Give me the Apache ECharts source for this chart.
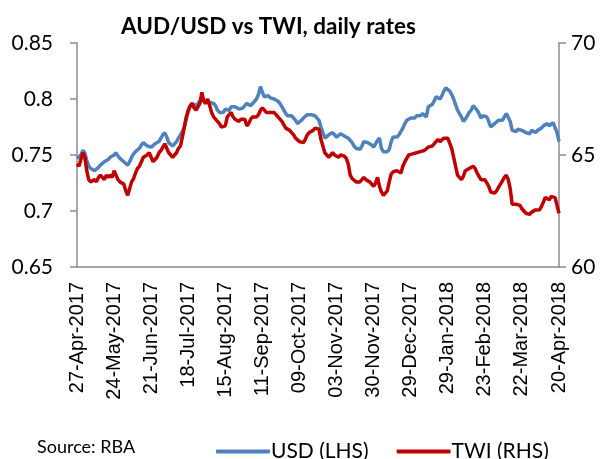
<!DOCTYPE html>
<html>
<head>
<meta charset="utf-8">
<script src="https://cdn.jsdelivr.net/npm/echarts@6/dist/echarts.min.js"></script>
<style>
  html, body { margin: 0; padding: 0; background: #fff; }
  #chart { width: 607px; height: 459px; }
</style>
</head>
<body>
<div id="chart"></div>
<script>
// x axis labels, one every 19 trading days
var tickLabels = ['27-Apr-2017', '24-May-2017', '21-Jun-2017', '18-Jul-2017', '15-Aug-2017',
  '11-Sep-2017', '09-Oct-2017', '03-Nov-2017', '30-Nov-2017', '29-Dec-2017',
  '29-Jan-2018', '23-Feb-2018', '22-Mar-2018', '20-Apr-2018'];
var labelStep = 19;

// AUD/USD (LHS)
var usd = [
  0.747, 0.746, 0.750, 0.754, 0.752, 0.745, 0.740, 0.738, 0.737, 0.736,
  0.737, 0.739, 0.741, 0.742, 0.744, 0.743, 0.746, 0.748, 0.747, 0.750,
  0.752, 0.749, 0.747, 0.746, 0.744, 0.743, 0.741, 0.744, 0.748, 0.751,
  0.753, 0.754, 0.756, 0.759, 0.761, 0.760, 0.758, 0.759, 0.757, 0.758,
  0.760, 0.761, 0.762, 0.765, 0.768, 0.770, 0.766, 0.761, 0.760, 0.758,
  0.759, 0.762, 0.765, 0.768, 0.771, 0.775, 0.782, 0.789, 0.793, 0.796,
  0.795, 0.794, 0.796, 0.795, 0.801, 0.799, 0.797, 0.798, 0.797, 0.796,
  0.796, 0.794, 0.790, 0.788, 0.787, 0.788, 0.791, 0.792, 0.790, 0.793,
  0.792, 0.793, 0.792, 0.791, 0.790, 0.792, 0.794, 0.796, 0.795, 0.794,
  0.796, 0.798, 0.800, 0.804, 0.811, 0.806, 0.802, 0.801, 0.803, 0.801,
  0.802, 0.800, 0.799, 0.798, 0.796, 0.795, 0.790, 0.787, 0.785, 0.784,
  0.785, 0.786, 0.781, 0.778, 0.779, 0.781, 0.783, 0.784, 0.786, 0.786,
  0.786, 0.785, 0.785, 0.784, 0.781, 0.775, 0.770, 0.765, 0.766, 0.768,
  0.768, 0.770, 0.768, 0.766, 0.767, 0.769, 0.768, 0.767, 0.768, 0.765,
  0.763, 0.761, 0.758, 0.756, 0.757, 0.755, 0.758, 0.762, 0.761, 0.761,
  0.760, 0.759, 0.757, 0.760, 0.763, 0.765, 0.756, 0.753, 0.752, 0.753,
  0.755, 0.762, 0.766, 0.765, 0.766, 0.768, 0.771, 0.774, 0.778, 0.781,
  0.782, 0.783, 0.784, 0.783, 0.785, 0.786, 0.785, 0.787, 0.786, 0.784,
  0.793, 0.794, 0.795, 0.798, 0.802, 0.801, 0.800, 0.803, 0.807, 0.810,
  0.809, 0.807, 0.804, 0.800, 0.795, 0.790, 0.787, 0.784, 0.780, 0.782,
  0.785, 0.788, 0.790, 0.794, 0.795, 0.790, 0.787, 0.783, 0.785, 0.786,
  0.784, 0.780, 0.775, 0.776, 0.778, 0.777, 0.781, 0.780, 0.781, 0.784,
  0.787, 0.787, 0.780, 0.772, 0.773, 0.771, 0.773, 0.774, 0.772, 0.771,
  0.770, 0.771, 0.769, 0.772, 0.771, 0.770, 0.772, 0.773, 0.774, 0.776,
  0.777, 0.778, 0.776, 0.777, 0.779, 0.780, 0.770, 0.762
];

// trade weighted index (RHS)
var twi = [
  64.6, 64.5, 64.8, 65.1, 64.9, 64.3, 63.9, 63.8, 63.75, 63.9,
  63.8, 64.0, 64.1, 64.0, 63.9, 64.1, 64.0, 64.1, 64.0, 64.3,
  64.1, 63.9, 63.8, 63.85, 63.7, 63.4, 63.2, 63.5, 63.8, 63.95,
  64.2, 64.4, 64.5, 64.7, 64.9, 64.9, 65.0, 65.1, 64.9, 64.7,
  64.8, 64.9, 65.1, 65.2, 65.35, 65.5, 65.3, 65.1, 65.0, 64.9,
  65.0, 65.1, 65.3, 65.4, 65.8, 66.25, 66.7, 67.0, 67.2, 67.3,
  67.1, 67.0, 67.0, 67.3, 67.8, 67.4, 67.3, 67.5, 67.2, 66.9,
  66.7, 66.6, 66.5, 66.4, 66.25, 66.2, 66.3, 66.7, 66.8, 66.9,
  66.7, 66.6, 66.55, 66.5, 66.6, 66.55, 66.6, 66.3, 66.4, 66.6,
  66.7, 66.65, 66.7, 66.8, 67.0, 67.1, 67.0, 66.9, 66.85, 66.9,
  66.95, 66.9, 66.8, 66.85, 66.6, 66.5, 66.35, 66.2, 66.25, 66.1,
  66.1, 65.9, 65.75, 65.7, 65.6, 65.65, 65.55, 65.7, 65.9, 66.0,
  66.05, 66.1, 66.2, 66.25, 66.15, 65.7, 65.4, 65.1, 65.0, 64.9,
  65.0, 65.1, 65.0, 64.95, 64.9, 65.0, 65.05, 64.95, 64.85, 64.6,
  64.1, 63.95, 63.9, 63.8, 63.75, 63.8, 63.9, 64.0, 63.9, 63.85,
  63.8, 63.7, 63.6, 63.75, 64.0, 63.6, 63.35, 63.2, 63.3, 63.4,
  63.8, 64.15, 64.25, 64.2, 64.3, 64.25, 64.2, 64.5, 64.7, 64.85,
  65.0, 64.95, 65.05, 65.0, 65.1, 65.1, 65.15, 65.1, 65.2, 65.25,
  65.35, 65.3, 65.4, 65.45, 65.6, 65.7, 65.6, 65.65, 65.75, 65.75,
  65.75, 65.7, 65.3, 64.9, 64.5, 64.1, 64.0, 63.9, 64.05, 64.3,
  64.25, 64.4, 64.45, 64.5, 64.4, 64.2, 64.05, 63.9, 63.95, 63.9,
  63.85, 63.6, 63.35, 63.4, 63.3, 63.4, 63.55, 63.7, 63.85, 64.0,
  64.1, 63.9, 63.5, 62.8, 62.85, 62.8, 62.85, 62.75, 62.6, 62.5,
  62.4, 62.4, 62.35, 62.45, 62.5, 62.55, 62.5, 62.55, 62.7, 62.9,
  63.1, 63.05, 63.0, 63.15, 63.2, 63.1, 63.15, 62.4
];

var categories = usd.map(function (v, i) { return String(i); });

var chart = echarts.init(document.getElementById('chart'));

var axisGrey = '#8c8c8c';
var option = {
  animation: false,
  backgroundColor: '#fff',
  title: {
    text: 'AUD/USD vs TWI, daily rates',
    left: 116,
    top: 10,
    textStyle: {
      fontFamily: 'Lato',
      fontWeight: 'bold',
      fontSize: 22.5,
      color: '#000'
    }
  },
  graphic: [{
    type: 'text',
    left: 37,
    top: 438,
    style: {
      text: 'Source: RBA',
      font: '18px Lato',
      fill: '#000'
    }
  }],
  legend: {
    left: 211,
    top: 436,
    itemWidth: 54,
    itemHeight: 4,
    itemGap: 28,
    icon: 'roundRect',
    textStyle: {
      fontFamily: 'Lato',
      fontSize: 21,
      color: '#000',
      padding: [0, 0, 0, -4]
    },
    data: ['USD (LHS)', 'TWI (RHS)']
  },
  grid: {
    left: 77,
    right: 48,
    top: 43,
    bottom: 192,
    containLabel: false
  },
  xAxis: {
    type: 'category',
    data: categories,
    boundaryGap: false,
    axisLine: { lineStyle: { color: axisGrey, width: 1.5 } },
    axisTick: { show: false },
    axisLabel: {
      rotate: 90,
      margin: 15,
      interval: function (idx) { return idx % labelStep === 0; },
      formatter: function (value, idx) { return tickLabels[idx / labelStep]; },
      fontFamily: 'Liberation Sans',
      fontSize: 20,
      color: '#000'
    }
  },
  yAxis: [
    {
      type: 'value',
      position: 'left',
      min: 0.65,
      max: 0.85,
      interval: 0.05,
      splitLine: { show: false },
      axisLine: { show: true, lineStyle: { color: axisGrey, width: 1.5 } },
      axisTick: { show: true, length: 7, lineStyle: { color: axisGrey, width: 1.5 } },
      axisLabel: {
        margin: 24,
        fontFamily: 'Lato',
        fontSize: 21,
        color: '#000'
      }
    },
    {
      type: 'value',
      position: 'right',
      min: 60,
      max: 70,
      interval: 5,
      splitLine: { show: false },
      axisLine: { show: true, lineStyle: { color: axisGrey, width: 1.5 } },
      axisTick: { show: true, length: 7, lineStyle: { color: axisGrey, width: 1.5 } },
      axisLabel: {
        margin: 12,
        fontFamily: 'Lato',
        fontSize: 21,
        color: '#000'
      }
    }
  ],
  series: [
    {
      name: 'USD (LHS)',
      type: 'line',
      yAxisIndex: 0,
      data: usd,
      showSymbol: false,
      symbol: 'none',
      lineStyle: { color: '#4f81bd', width: 3.5 },
      itemStyle: { color: '#4f81bd' }
    },
    {
      name: 'TWI (RHS)',
      type: 'line',
      yAxisIndex: 1,
      data: twi,
      showSymbol: false,
      symbol: 'none',
      lineStyle: { color: '#c00000', width: 3.5 },
      itemStyle: { color: '#c00000' }
    }
  ]
};

chart.setOption(option);
</script>
</body>
</html>
